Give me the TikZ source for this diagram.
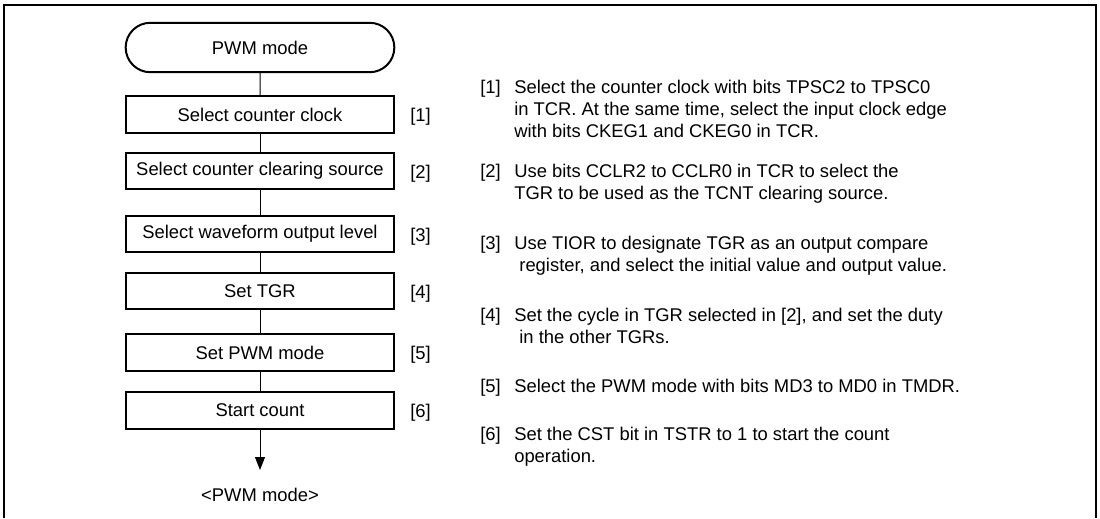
\documentclass[tikz,border=0pt]{standalone}
\usepackage{fontspec}
\setmainfont{Liberation Sans}
\usetikzlibrary{positioning, shapes.misc, arrows.meta}

\tikzset{
  flowtxt/.style={font=\fontsize{13.8}{16.5}\selectfont},
  stepbox/.style={flowtxt, draw, line width=1.5pt, rectangle, minimum width=201.5pt, minimum height=27.4pt, inner sep=0pt},
  termbox/.style={flowtxt, draw, line width=1.5pt, rounded rectangle, minimum width=201.5pt, minimum height=37.1pt, inner sep=0pt},
  tag/.style={flowtxt, inner sep=0pt, right=11pt of #1, yshift=-2pt},
  note/.style={flowtxt, inner sep=0pt, anchor=base west, align=left},
  link/.style={line width=0.75pt},
}

\begin{document}
\begin{tikzpicture}[x=0.75pt, y=-0.75pt]
    \useasboundingbox (0,0) rectangle (1100,518);
    \draw[line width=1.6pt] (4,518) -- (4,5) -- (1096,5) -- (1096,518);

    % flow
    \node[termbox] (start) at (260,47.5) {PWM mode};
    \node[stepbox] (clk) at (260,114.5) {Select counter clock};
    \node[stepbox] (clr) at (260,171) {Select counter clearing source};
    \node[stepbox] (lvl) at (260,234) {Select waveform output level};
    \node[stepbox] (tgr) at (260,291) {Set TGR};
    \node[stepbox] (pwm) at (260,352.5) {Set PWM mode};
    \node[stepbox] (cnt) at (260,410.5) {Start count};
    \coordinate (tip) at (260,470);
    \node[flowtxt] (done) at (260,495) {<PWM mode>};

    \draw[link] (start) -- (clk);
    \draw[link] (clk) -- (clr);
    \draw[link] (clr) -- (lvl);
    \draw[link] (lvl) -- (tgr);
    \draw[link] (tgr) -- (pwm);
    \draw[link] (pwm) -- (cnt);
    \draw[link, -{Triangle[length=9.75pt, width=7.5pt]}] (cnt) -- (tip);

    \node[tag=clk] (k1) {[1]};
    \node[tag=clr] (k2) {[2]};
    \node[tag=lvl] (k3) {[3]};
    \node[tag=tgr] (k4) {[4]};
    \node[tag=pwm] (k5) {[5]};
    \node[tag=cnt] (k6) {[6]};

    % notes (text nodes sit on their last baseline)
    \node[note] (m1) at (480,93) {[1]};
    \node[note] (t1) at (514,137) {Select the counter clock with bits TPSC2 to TPSC0\\in TCR. At the same time, select the input clock edge\\with bits CKEG1 and CKEG0 in TCR.};
    \node[note] (m2) at (480,177) {[2]};
    \node[note] (t2) at (514,199) {Use bits CCLR2 to CCLR0 in TCR to select the\\TGR to be used as the TCNT clearing source.};
    \node[note] (m3) at (480,249) {[3]};
    \node[note] (t3) at (514,271) {Use TIOR to designate TGR as an output compare\\\hspace*{.278em}register, and select the initial value and output value.};
    \node[note] (m4) at (480,321) {[4]};
    \node[note] (t4) at (514,343) {Set the cycle in TGR selected in [2], and set the duty\\\hspace*{.278em}in the other TGRs.};
    \node[note] (m5) at (480,392) {[5]};
    \node[note] (t5) at (514,392) {Select the PWM mode with bits MD3 to MD0 in TMDR.};
    \node[note] (m6) at (480,440) {[6]};
    \node[note] (t6) at (514,462) {Set the CST bit in TSTR to 1 to start the count\\operation.};
\end{tikzpicture}
\end{document}
